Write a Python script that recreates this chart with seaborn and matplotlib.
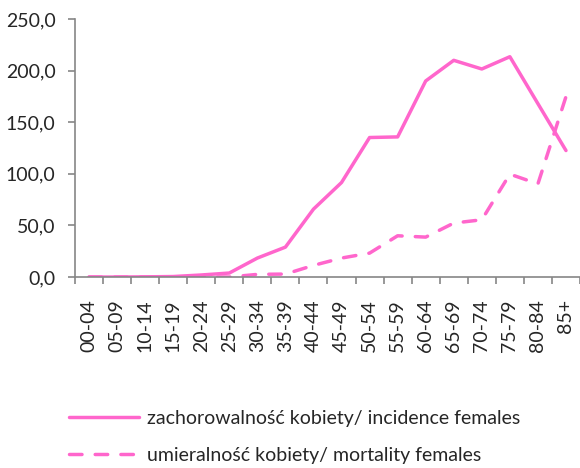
import matplotlib
matplotlib.use("Agg")
import matplotlib.pyplot as plt
import pandas as pd
import seaborn as sns
from matplotlib.ticker import FixedLocator, FuncFormatter

age_groups = ["00-04", "05-09", "10-14", "15-19", "20-24", "25-29", "30-34", "35-39",
              "40-44", "45-49", "50-54", "55-59", "60-64", "65-69", "70-74", "75-79",
              "80-84", "85+"]
incidence = [0.0, 0.0, 0.2, 0.5, 2.0, 3.9, 18.4, 29.0, 65.8, 91.6, 135.2, 135.8,
             190.0, 210.0, 201.6, 213.5, 168.0, 122.6]
mortality = [0.0, 0.0, 0.0, 0.0, 0.2, 0.0, 2.6, 2.9, 11.3, 18.4, 23.2, 40.0,
             38.7, 52.3, 55.5, 99.7, 90.3, 174.8]
labels = ["zachorowalność kobiety/ incidence females",
          "umieralność kobiety/ mortality females"]

PINK = "#FF66CC"
AXIS_GREY = "#868686"

sns.set_style("white")
plt.rcParams["font.family"] = ["Lato", "DejaVu Sans"]

frame = pd.DataFrame({"pos": range(len(age_groups)), "inc": incidence, "mort": mortality})

fig = plt.figure(figsize=(5.8, 4.68), dpi=100)
ax = fig.add_axes([0.1293, 0.408, 0.8707, 0.5513])

sns.lineplot(data=frame, x="pos", y="inc", color=PINK, lw=2.5, ax=ax,
             label=labels[0], solid_capstyle="round")
sns.lineplot(data=frame, x="pos", y="mort", color=PINK, lw=2.5, ax=ax,
             label=labels[1], dashes=False)
ax.lines[1].set_dashes((3.6, 3.8))
ax.lines[1].set_dash_capstyle("round")

ax.set_xlim(-0.5, len(age_groups) - 0.5)
ax.set_ylim(0, 250)
ax.yaxis.set_major_locator(FixedLocator([0, 50, 100, 150, 200, 250]))
ax.yaxis.set_major_formatter(FuncFormatter(lambda v, _: f"{v:.1f}".replace(".", ",")))

# ticks sit on category boundaries, labels in between
ax.set_xticks([i - 0.5 for i in range(len(age_groups) + 1)])
ax.set_xticklabels([])
ax.set_xticks(range(len(age_groups)), minor=True)
ax.set_xticklabels(age_groups, minor=True, rotation=90, fontsize=14)
ax.tick_params(axis="x", which="minor", bottom=False, pad=14)
ax.tick_params(axis="x", which="major", bottom=True, length=5, width=1.2,
               color=AXIS_GREY, direction="out")
ax.tick_params(axis="y", left=True, length=5, width=1.2, color=AXIS_GREY, direction="out",
               labelsize=14, pad=9)

ax.set_xlabel("")
ax.set_ylabel("")
for side in ["top", "right"]:
    ax.spines[side].set_visible(False)
for side in ["left", "bottom"]:
    ax.spines[side].set_color(AXIS_GREY)
    ax.spines[side].set_linewidth(1.2)

ax.legend(loc="upper left", bbox_to_anchor=(0.105, 0.14), bbox_transform=fig.transFigure,
          frameon=False, fontsize=14, handlelength=3.6, handletextpad=0.45,
          labelspacing=1.0, borderaxespad=0)

fig.savefig("out.png", dpi=100)
